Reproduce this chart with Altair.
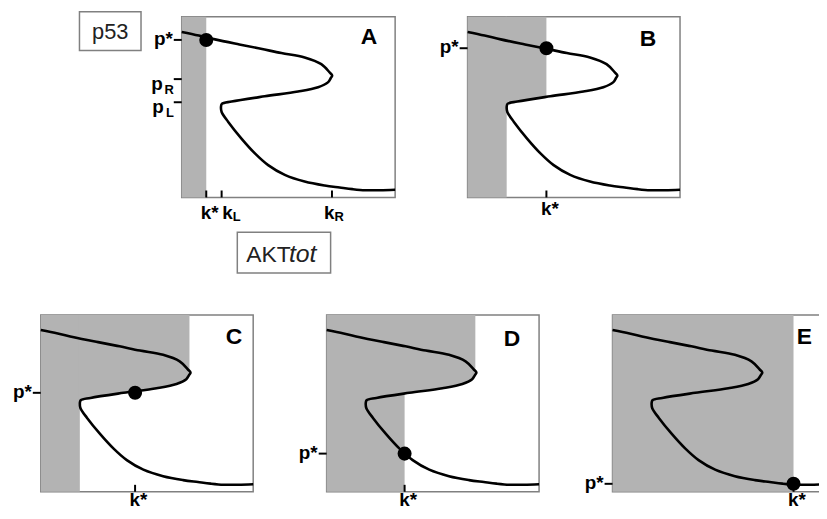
import altair as alt
import pandas as pd
import numpy as np

# ---- data (normalised units: AKTtot on x 0-100, p53 on y 0-100) ----
curve_x = [0, 8, 15.6, 27, 37.1, 46.7, 57.6, 65.4, 69.3, 70.5, 69.8, 68.5, 63.9, 54.5, 38.9,
           23.4, 18.8, 18.4, 18.7, 21.8, 28.0, 34.3, 40.5, 48.3, 57.6, 67.0, 74, 80, 86, 93, 100]
curve_y = [91.6, 89.6, 87.5, 84.7, 82.3, 79.9, 77.5, 73.8, 69.2, 67.5, 66.0, 63.7, 61.0, 58.6, 56.0,
           53.1, 51.8, 50.0, 47.3, 41.8, 32.6, 24.4, 17.9, 12.5, 8.8, 6.6, 5.5, 4.6, 4.0, 4.0, 4.3]

panel_names = ["A", "B", "C", "D", "E"]
k_star = [11.5, 37.1, 44.4, 36.7, 85.2]
p_star = [87.2, 82.6, 56.0, 21.6, 4.5]
shade_full = [11.5, 18.4, 18.4, 36.7, 85.2]
shade_upper = [11.5, 37.1, 70.0, 70.0, 85.2]
k_L, k_R = 18.7, 70.4
p_R, p_L = 65.5, 52.7

# ---- styling / layout ----
FONT = "Liberation Sans"
GRAY = "#b3b3b3"
BORDER = "#808080"
panel_w = [215, 214, 214, 214, 214]
panel_h = [182, 182, 178, 178, 178]
letter_right = [18, 24, 11, 19, 13]
letter_top = [11, 13, 13, 15, 13]
klab_gap = [8, 4, 1, 1, 1]
FS = 19
SUB = 13

cx = np.array(curve_x, dtype=float)
cy = np.array(curve_y, dtype=float)
# middle (unstable) branch: from the right fold to the left fold
i_r = next(i for i in range(len(cx) - 1) if cx[i + 1] < cx[i])
i_l = next(i for i in range(i_r, len(cx) - 1) if cx[i + 1] > cx[i])
mid_x = cx[i_r:i_l + 1][::-1]
mid_y = cy[i_r:i_l + 1][::-1]


def sc():
    return alt.Scale(domain=[0, 100], nice=False, zero=False)


def X(f):
    return alt.X(f, type="quantitative", scale=sc(), axis=None)


def Y(f):
    return alt.Y(f, type="quantitative", scale=sc(), axis=None)


one = pd.DataFrame({"d": [0]})


def panel(j):
    w, h = panel_w[j], panel_h[j]
    a, b = shade_full[j], shade_upper[j]
    layers = []
    rect_df = pd.DataFrame({"x0": [0], "x1": [a], "y0": [0], "y1": [100]})
    layers.append(alt.Chart(rect_df).mark_rect(color=GRAY).encode(
        x=X("x0"), x2="x1", y=Y("y0"), y2="y1"))
    if b > a:
        a2 = a - 0.5
        xs = [a2] + [float(v) for v in mid_x if a2 < v < b] + [b]
        ys = [float(v) for v in np.interp(xs, mid_x, mid_y)]
        area_df = pd.DataFrame({"x": xs, "y": ys, "y2": [100.0] * len(xs)})
        layers.append(alt.Chart(area_df).mark_area(color=GRAY).encode(
            x=X("x"), y=Y("y"), y2="y2"))
    cdf = pd.DataFrame({"i": range(len(curve_x)), "x": curve_x, "y": curve_y})
    layers.append(alt.Chart(cdf).mark_line(color="black", strokeWidth=2.6,
                                          interpolate="catmull-rom").encode(
        x=X("x"), y=Y("y"), order="i:Q"))
    ddf = pd.DataFrame({"x": [k_star[j]], "y": [p_star[j]]})
    layers.append(alt.Chart(ddf).mark_circle(size=200, color="black", opacity=1).encode(
        x=X("x"), y=Y("y")))

    # y ticks + labels
    if j == 0:
        ylabs = pd.DataFrame({"v": [p_star[0], p_R, p_L], "main": ["p*", "p", "p"],
                              "sub": ["", "R", "L"], "style": ["mid", "top", "top"],
                              "subw": [0, 10, 9]})
    else:
        ylabs = pd.DataFrame({"v": [p_star[j]], "main": ["p*"], "sub": [""],
                              "style": ["mid"], "subw": [0]})
    layers.append(alt.Chart(ylabs).mark_rule(color="black", strokeWidth=2).encode(
        x=alt.value(-8), x2=alt.value(0), y=Y("v")))
    for _, r in ylabs.iterrows():
        d1 = pd.DataFrame([r])
        dy = 5 if r["style"] == "mid" else 10.5
        layers.append(alt.Chart(d1).mark_text(align="right", baseline="alphabetic", dy=dy,
                                              fontSize=FS, fontWeight="bold", font=FONT,
                                              color="black").encode(
            x=alt.value(-9 - r["subw"]), y=Y("v"), text="main:N"))
        if r["sub"]:
            layers.append(alt.Chart(d1).mark_text(align="right", baseline="alphabetic", dy=15,
                                                  fontSize=SUB, fontWeight="bold", font=FONT,
                                                  color="black").encode(
                x=alt.value(-8), y=Y("v"), text="sub:N"))

    # x ticks + labels
    if j == 0:
        xlabs = pd.DataFrame({"v": [k_star[0], k_L, k_R], "main": ["k*", "k", "k"],
                              "sub": ["", "L", "R"], "dx": [-5.5, 0.7, -8]})
    else:
        xlabs = pd.DataFrame({"v": [k_star[j]], "main": ["k*"], "sub": [""], "dx": [-5.5]})
    layers.append(alt.Chart(xlabs).mark_rule(color="black", strokeWidth=2).encode(
        x=X("v"), y=alt.value(h - 7), y2=alt.value(h)))
    base_y = h + klab_gap[j] + 13.6
    for _, r in xlabs.iterrows():
        d1 = pd.DataFrame([r])
        layers.append(alt.Chart(d1).mark_text(align="left", baseline="alphabetic", dx=r["dx"],
                                              fontSize=FS, fontWeight="bold", font=FONT,
                                              color="black").encode(
            x=X("v"), y=alt.value(base_y), text="main:N"))
        if r["sub"]:
            layers.append(alt.Chart(d1).mark_text(align="left", baseline="alphabetic",
                                                  dx=r["dx"] + 10.6,
                                                  fontSize=SUB, fontWeight="bold", font=FONT,
                                                  color="black").encode(
                x=X("v"), y=alt.value(base_y + 2), text="sub:N"))

    # panel letter
    layers.append(alt.Chart(pd.DataFrame({"t": [panel_names[j]]})).mark_text(
        align="right", baseline="top", fontSize=23, fontWeight="bold", font=FONT,
        color="black").encode(x=alt.value(w - letter_right[j]),
                              y=alt.value(letter_top[j] - 1.7), text="t:N"))

    if j == 0:
        # "p53" and "AKTtot" legend boxes
        layers.append(alt.Chart(one).mark_rect(fill="white", stroke=BORDER, strokeWidth=1.5).encode(
            x=alt.value(-103), x2=alt.value(-41), y=alt.value(-5), y2=alt.value(34)))
        layers.append(alt.Chart(pd.DataFrame({"t": ["p53"]})).mark_text(
            align="center", baseline="alphabetic", fontSize=22, font=FONT, color="#222222").encode(
            x=alt.value(-72), y=alt.value(22), text="t:N"))
        layers.append(alt.Chart(one).mark_rect(fill="white", stroke=BORDER, strokeWidth=1.5).encode(
            x=alt.value(56), x2=alt.value(150), y=alt.value(217), y2=alt.value(258)))
        layers.append(alt.Chart(pd.DataFrame({"t": ["AKT"]})).mark_text(
            align="left", baseline="alphabetic", fontSize=23, font=FONT, color="#222222").encode(
            x=alt.value(65), y=alt.value(247), text="t:N"))
        layers.append(alt.Chart(pd.DataFrame({"t": ["tot"]})).mark_text(
            align="left", baseline="alphabetic", fontSize=25, fontStyle="italic", font=FONT,
            color="#222222").encode(x=alt.value(108), y=alt.value(247), text="t:N"))

    return alt.layer(*layers).properties(width=w, height=h)


spacer = alt.Chart(one).mark_point(opacity=0).encode(
    x=alt.value(0), y=alt.value(0)).properties(width=69, height=182, view={"stroke": "transparent"})

top = alt.hconcat(spacer, panel(0), panel(1), spacing=73, bounds="flush")
bottom = alt.hconcat(panel(2), panel(3), panel(4), spacing=74, bounds="flush")
chart = alt.vconcat(top, bottom, spacing=39.5, bounds="full").configure_view(
    stroke=BORDER, strokeWidth=1.5).properties(
    padding={"left": 4, "top": 0, "right": -12, "bottom": -4}, background="white")

chart.save("out.html", embed_options={"renderer": "svg", "actions": False})
